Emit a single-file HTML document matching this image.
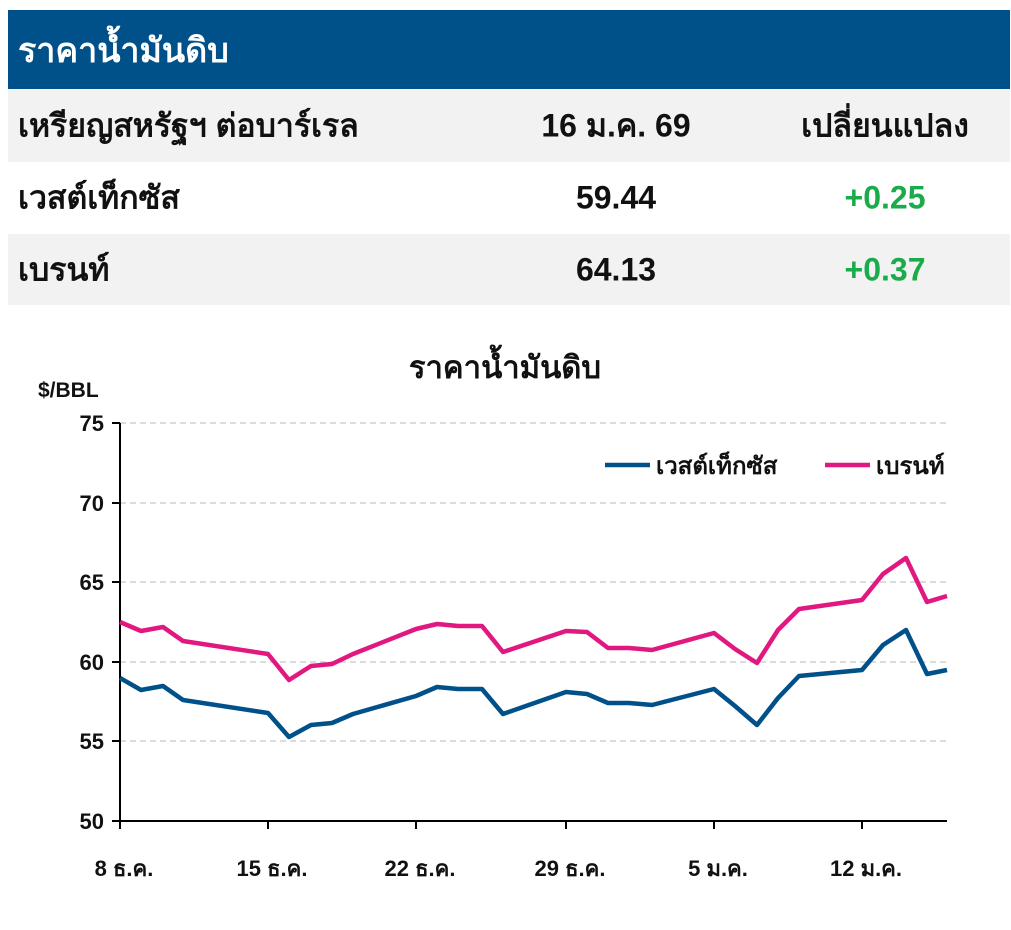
<!DOCTYPE html><html><head><meta charset="utf-8"><style>
body{margin:0;width:1011px;height:930px;background:#fff;font-family:"Liberation Sans","Noto Sans CJK SC",sans-serif;position:relative;overflow:hidden}
.r{position:absolute;left:8px;width:1002px;font-weight:bold;font-size:32px;color:#111}
.r span{position:absolute;top:50%;transform:translateY(-50%)}
</style></head><body>
<div class="r" style="top:10px;height:79px;background:#005089;color:#fff"><span style="left:10px;font-size:34px">ราคาน้ำมันดิบ</span></div>
<div class="r" style="top:89px;height:73px;background:#f2f2f2"><span style="left:10px">เหรียญสหรัฐฯ ต่อบาร์เรล</span><span style="left:608px;transform:translate(-50%,-50%)">16 ม.ค. 69</span><span style="left:877px;transform:translate(-50%,-50%)">เปลี่ยนแปลง</span></div>
<div class="r" style="top:162px;height:72px;background:#fff"><span style="left:10px">เวสต์เท็กซัส</span><span style="left:608px;transform:translate(-50%,-50%)">59.44</span><span style="left:877px;transform:translate(-50%,-50%);color:#1aab4a">+0.25</span></div>
<div class="r" style="top:234px;height:71px;background:#f2f2f2"><span style="left:10px">เบรนท์</span><span style="left:608px;transform:translate(-50%,-50%)">64.13</span><span style="left:877px;transform:translate(-50%,-50%);color:#1aab4a">+0.37</span></div>
<svg width="1011" height="930" style="position:absolute;left:0;top:0" font-family="Liberation Sans, Noto Sans CJK SC, sans-serif" font-weight="bold">
<text x="505" y="378" font-size="31" text-anchor="middle" fill="#111">ราคาน้ำมันดิบ</text>
<text x="38" y="397" font-size="21" fill="#111">$/BBL</text>
<g stroke="#d0d0d0" stroke-width="1.5" stroke-dasharray="6,4">
<line x1="120" x2="947" y1="423" y2="423"/><line x1="120" x2="947" y1="503" y2="503"/><line x1="120" x2="947" y1="582" y2="582"/><line x1="120" x2="947" y1="662" y2="662"/><line x1="120" x2="947" y1="741" y2="741"/></g>
<line x1="120" y1="423" x2="120" y2="821" stroke="#000" stroke-width="2"/>
<line x1="120" y1="821" x2="947" y2="821" stroke="#000" stroke-width="2"/>
<g stroke="#000" stroke-width="2"><line x1="112" x2="120" y1="423" y2="423"/><line x1="112" x2="120" y1="503" y2="503"/><line x1="112" x2="120" y1="582" y2="582"/><line x1="112" x2="120" y1="662" y2="662"/><line x1="112" x2="120" y1="741" y2="741"/><line x1="112" x2="120" y1="821" y2="821"/>
<line x1="120" x2="120" y1="821" y2="829"/><line x1="268" x2="268" y1="821" y2="829"/><line x1="416" x2="416" y1="821" y2="829"/><line x1="566" x2="566" y1="821" y2="829"/><line x1="714" x2="714" y1="821" y2="829"/><line x1="862" x2="862" y1="821" y2="829"/></g>
<g font-size="22" text-anchor="end" fill="#111"><text x="104" y="431">75</text><text x="104" y="511">70</text><text x="104" y="590">65</text><text x="104" y="670">60</text><text x="104" y="749">55</text><text x="104" y="829">50</text></g>
<g font-size="22" text-anchor="middle" fill="#111"><text x="124" y="876">8 ธ.ค.</text><text x="272" y="876">15 ธ.ค.</text><text x="420" y="876">22 ธ.ค.</text><text x="570" y="876">29 ธ.ค.</text><text x="718" y="876">5 ม.ค.</text><text x="866" y="876">12 ม.ค.</text></g>
<polyline fill="none" stroke="#e0187f" stroke-width="4.5" stroke-linejoin="round" points="120,622 141,631 163,627 183,641 268,654 289,680 311,666 332,664 353,654 416,629 437,624 458,626 482,626 503,652 566,631 587,632 608,648 629,648 652,650 714,633 735,649 757,663 778,630 799,609 862,600 883,574 906,558 927,602 947,596"/>
<polyline fill="none" stroke="#005089" stroke-width="4.5" stroke-linejoin="round" points="120,678 141,690 163,686 183,700 268,713 289,737 311,725 332,723 353,714 416,696 437,687 458,689 482,689 503,714 566,692 587,694 608,703 629,703 652,705 714,689 735,706 757,725 778,698 799,676 862,670 883,645 906,630 927,674 947,670"/>
<line x1="605" x2="650" y1="465" y2="465" stroke="#005089" stroke-width="4.5"/>
<text x="656" y="474" font-size="24" fill="#111">เวสต์เท็กซัส</text>
<line x1="825" x2="870" y1="465" y2="465" stroke="#e0187f" stroke-width="4.5"/>
<text x="876" y="474" font-size="24" fill="#111">เบรนท์</text>
</svg>
</body></html>
